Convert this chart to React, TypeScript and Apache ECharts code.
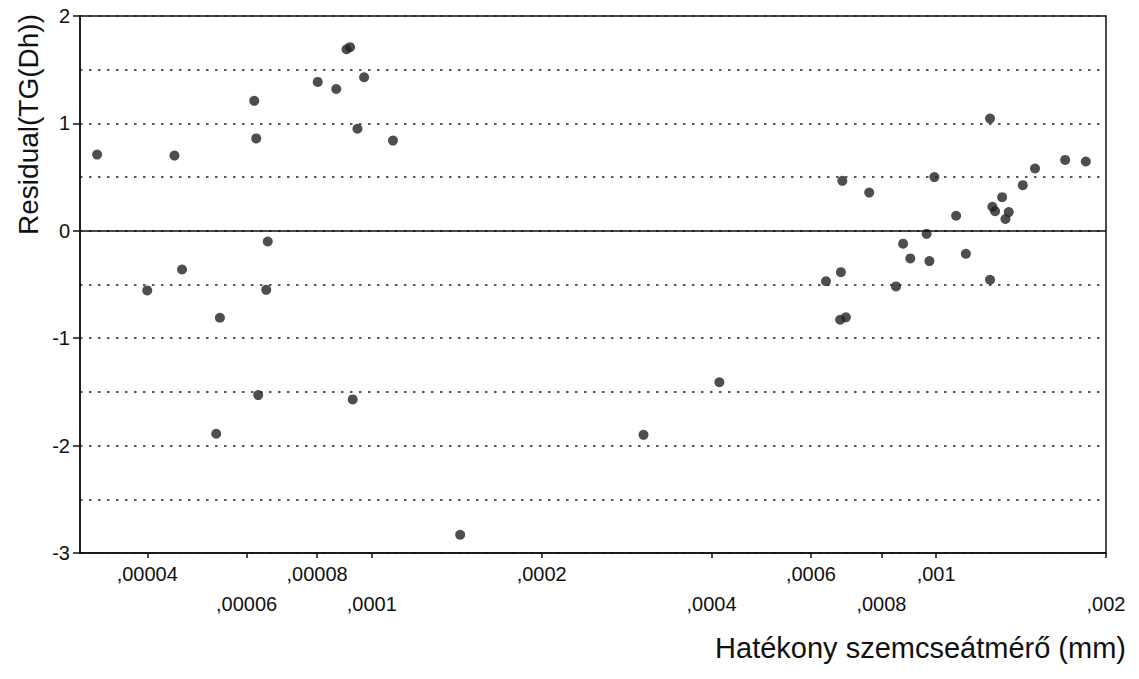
import React, { useEffect, useRef } from "react";
import * as echarts from "echarts";

// Effective grain diameter (mm) and residuals TG(Dh)
const diameters = [
  0.0000326, 0.00004, 0.0000447, 0.0000461, 0.000053, 0.0000538, 0.0000619, 0.0000624,
  0.0000629, 0.000065, 0.0000654, 0.0000802, 0.0000865, 0.0000902, 0.0000915, 0.0000925,
  0.0000943, 0.0000969, 0.000109, 0.0001434, 0.000303, 0.000413,
  0.000638, 0.000676, 0.000678, 0.000682, 0.000692, 0.000761, 0.000849, 0.000874,
  0.0009, 0.000962, 0.000973, 0.000993, 0.001085, 0.001129, 0.001246, 0.001246,
  0.001258, 0.001272, 0.001309, 0.001327, 0.001345, 0.001424, 0.001497, 0.001693, 0.001842,
];
const residuals = [
  0.71, -0.555, 0.7, -0.36, -1.89, -0.81, 1.21, 0.86,
  -1.53, -0.55, -0.1, 1.386, 1.32, 1.69, 1.71, -1.57,
  0.95, 1.43, 0.84, -2.83, -1.9, -1.41,
  -0.47, -0.828, -0.385, 0.465, -0.806, 0.356, -0.518, -0.12,
  -0.257, -0.028, -0.282, 0.5, 0.14, -0.214, 1.045, -0.456,
  0.223, 0.183, 0.313, 0.11, 0.174, 0.425, 0.58, 0.66, 0.645,
];

const xTickValues = [0.00004, 0.00006, 0.00008, 0.0001, 0.0002, 0.0004, 0.0006, 0.0008, 0.001, 0.002];
const xTickLabels = [",00004", ",00006", ",00008", ",0001", ",0002", ",0004", ",0006", ",0008", ",001", ",002"];
const xRow1 = xTickValues.filter((_, i) => i % 2 === 0);
const xRow2 = xTickValues.filter((_, i) => i % 2 === 1);

const X_MIN = 0.0000304;
const X_MAX = 0.002;

const xTitle = "Hatékony szemcseátmérő (mm)";
const yTitle = "Residual(TG(Dh))";

const FONT = "'Liberation Sans', Arial, sans-serif";

function xLabel(v: number): string {
  let val = v;
  if (val < 0) val = Math.pow(10, val);
  for (let i = 0; i < xTickValues.length; i++) {
    if (Math.abs(Math.log10(val) - Math.log10(xTickValues[i])) < 0.005) return xTickLabels[i];
  }
  return "";
}

export default function App() {
  const ref = useRef<HTMLDivElement>(null);
  useEffect(() => {
    if (!ref.current) return;
    const chart = echarts.init(ref.current, null, { renderer: "svg" });
    const dotted = { color: "#222", width: 1.7, type: [2.5, 6.5] as number[] };
    const labelStyle = { color: "#111", fontSize: 20, fontFamily: FONT };
    chart.setOption({
      animation: false,
      backgroundColor: "#ffffff",
      grid: {
        left: 80,
        right: 33,
        top: 16,
        bottom: 126,
        show: true,
        borderColor: "#111",
        borderWidth: 1.5,
        backgroundColor: "transparent",
      },
      xAxis: [
        {
          type: "log",
          min: X_MIN,
          max: X_MAX,
          position: "bottom",
          axisLine: { show: true, onZero: false, lineStyle: { color: "#111", width: 1.5 } },
          axisTick: { show: true, length: 5, customValues: xTickValues, lineStyle: { color: "#111", width: 1.5 } },
          axisLabel: { ...labelStyle, margin: 11, customValues: xRow1, formatter: xLabel },
          splitLine: { show: false },
          minorTick: { show: false },
        },
        {
          type: "log",
          min: X_MIN,
          max: X_MAX,
          position: "bottom",
          axisLine: { show: false, onZero: false },
          axisTick: { show: false },
          axisLabel: { ...labelStyle, margin: 41, customValues: xRow2, formatter: xLabel },
          splitLine: { show: false },
        },
      ],
      yAxis: {
        type: "value",
        min: -3,
        max: 2,
        interval: 1,
        axisLine: { show: true, lineStyle: { color: "#111", width: 1.5 } },
        axisTick: { show: true, length: 7, lineStyle: { color: "#111", width: 1.5 } },
        axisLabel: { ...labelStyle, margin: 10 },
        splitLine: { show: true, lineStyle: dotted },
        minorTick: { show: false, splitNumber: 2 },
        minorSplitLine: { show: true, lineStyle: dotted },
      },
      graphic: [
        {
          type: "text",
          x: 28,
          y: 14,
          rotation: Math.PI / 2,
          style: {
            text: yTitle,
            fill: "#111",
            font: `28px ${FONT}`,
            align: "right",
            verticalAlign: "middle",
          },
        },
        {
          type: "text",
          x: 1126,
          y: 648,
          style: {
            text: xTitle,
            fill: "#111",
            font: `29px ${FONT}`,
            align: "right",
            verticalAlign: "middle",
          },
        },
      ],
      series: [
        {
          type: "scatter",
          xAxisIndex: 0,
          yAxisIndex: 0,
          data: diameters.map((d, i) => [d, residuals[i]]),
          symbol: "circle",
          symbolSize: 10,
          itemStyle: { color: "#222" },
          markLine: {
            silent: true,
            symbol: "none",
            label: { show: false },
            lineStyle: { color: "#111", width: 1.6, type: "solid" },
            data: [{ yAxis: 0 }],
          },
        },
      ],
    });
    return () => chart.dispose();
  }, []);
  return (
    <div
      ref={ref}
      style={{ position: "absolute", left: 0, top: 0, width: 1139, height: 679, background: "#fff" }}
    />
  );
}
